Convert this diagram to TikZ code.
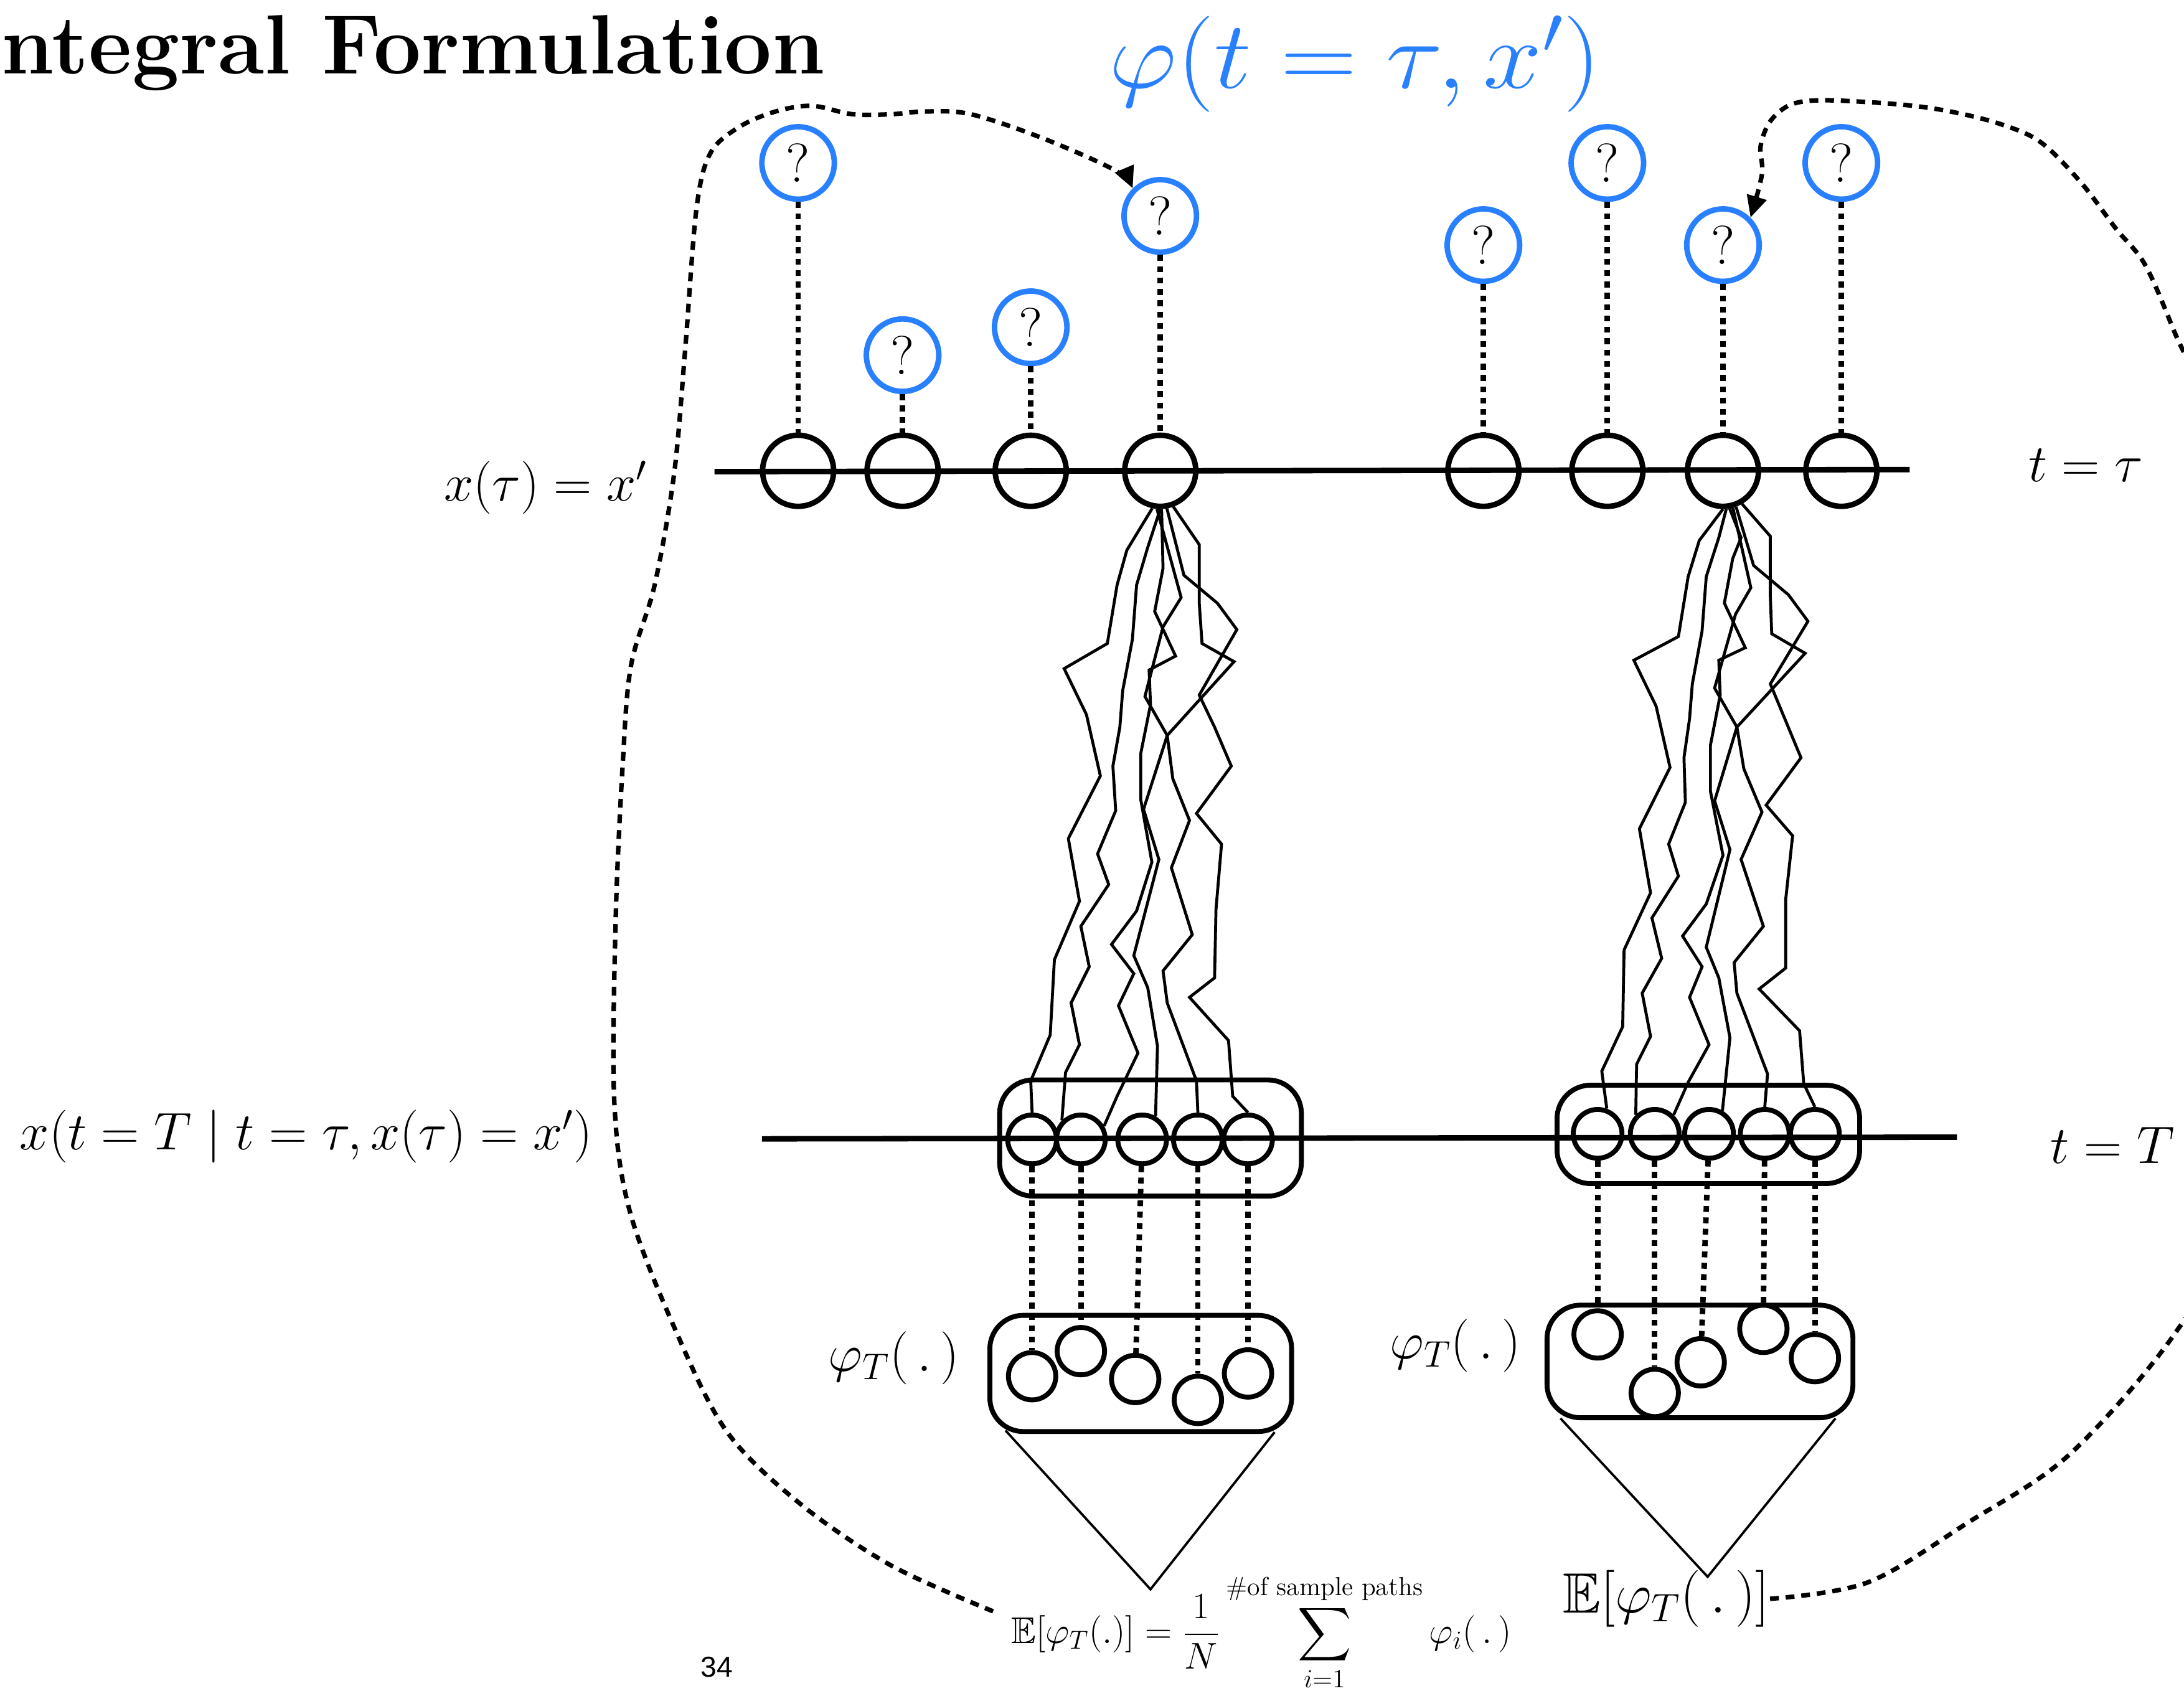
\RequirePackage{fix-cm}
\documentclass[tikz,border=0pt]{standalone}
\usepackage{amsmath}
\usepackage{amssymb}
\usepackage{fontspec}
\newfontfamily\pagefont{Liberation Sans}
\usetikzlibrary{arrows.meta}
\definecolor{qblue}{RGB}{40,128,255}

\begin{document}
\begin{tikzpicture}[x=0.025cm,y=-0.025cm,
  state/.style={circle,draw,line width=2.8pt,minimum size=1.275cm,inner sep=0pt},
  qmark/.style={circle,draw=qblue,line width=2.8pt,minimum size=1.3cm,inner sep=0pt,font=\fontsize{28}{30}\selectfont},
  hit/.style={circle,draw,line width=2.5pt,minimum size=0.875cm,inner sep=0pt},
  val/.style={circle,draw,line width=2.5pt,minimum size=0.85cm,inner sep=0pt},
  bag/.style={draw,rounded corners=0.6cm,line width=2.5pt,inner sep=0pt},
  link/.style={line width=2.8pt,dash pattern=on 3pt off 2.8pt},
  walk/.style={line width=1.5pt},
  cone/.style={line width=1.2pt},
  timeline/.style={line width=2.8pt},
  loopback/.style={line width=2.3pt,dash pattern=on 4.5pt off 3.5pt,-{Triangle[length=11pt,width=10pt]}},
  lab/.style={inner sep=0pt,font=\fontsize{27}{30}\selectfont}]
  \useasboundingbox (0,0) rectangle (1568,1214);
  \clip (0,0) rectangle (1568,1214);

  \node[anchor=base west,inner sep=0pt,font=\fontsize{43}{47}\selectfont\bfseries] (title) at (1,53) {ntegral Formulation};
  \node[inner sep=0pt,text=qblue,font=\fontsize{49}{52}\selectfont,xscale=1.1] (value) at (973,46) {$\varphi(t=\tau,x')$};

  % t = tau
  \coordinate (tauL) at (513,338.6);
  \coordinate (tauR) at (1371,337.1);
  \draw[timeline] (tauL) -- (tauR);
  \foreach \i/\x/\qy in {1/573/117,2/648/255,3/740/235,4/833/155,5/1065/176,6/1154/117,7/1237/176,8/1322/117} {
    \node[state] (s\i) at (\x,338) {};
    \node[qmark] (q\i) at (\x,\qy) {?};
    \draw[link] (q\i) -- (s\i);
  }
  \node[lab,anchor=east] (xtau) at (465,350) {$x(\tau)=x'$};
  \node[lab,anchor=west] (ttau) at (1456,334) {$t=\tau$};

  % t = T
  \coordinate (TL) at (547,817.6);
  \coordinate (TR) at (1405,816.4);
  \draw[timeline] (TL) -- (TR);
  \node[lab,anchor=west] (tT) at (1472,822) {$t=T$};
  \node[lab,anchor=west] (cond) at (14,816) {$x(t=T\mid t=\tau,x(\tau)=x')$};

  % left bundle
  \node[bag,minimum width=5.415cm,minimum height=2.085cm] (lhit) at (826,817) {};
  \node[bag,minimum width=5.415cm,minimum height=2.085cm] (lval) at (819,986) {};
  \foreach \i/\x in {1/741,2/776,3/820,4/860,5/896}
    \node[hit] (la\i) at (\x,818) {};
  \foreach \i/\x/\y in {1/741/988,2/776/970,3/815/990,4/860/1005,5/896/986}
    \node[val] (lb\i) at (\x,\y) {};
  \foreach \i in {1,...,5}
    \draw[link] (la\i) -- (lb\i);
  \node[lab,anchor=east] (phiL) at (689,975) {$\varphi_T(\,.\,)$};

  \draw[walk] (s4.-102) -- (809,395) -- (802,420) -- (795,462) -- (764,480) -- (780,513) -- (790,557) -- (767,602) -- (775,647) -- (757,689) -- (754,743) -- (740,776) -- (la1.north);
  \draw[walk] (s4.-90) -- (824,393) -- (816,420) -- (813,459) -- (806,496) -- (804,522) -- (799,550) -- (801,582) -- (788,613) -- (796,635) -- (776,665) -- (782,694) -- (769,720) -- (775,750) -- (765,770) -- (la2.north west);
  \draw[walk] (s4.-88) -- (835,408) -- (829,439) -- (844,471) -- (825,481) -- (826,506) -- (819,541) -- (819,574) -- (827,619) -- (816,654) -- (798,678) -- (814,699) -- (803,722) -- (817,756) -- (802,787) -- (la2.30);
  \draw[walk] (s4.-70) -- (861,391) -- (861,433) -- (863,462) -- (886,475) -- (838,528) -- (821,581) -- (832,617) -- (814,686) -- (824,709) -- (831,751) -- (la3.60);
  \draw[walk] (s4.-95) -- (848,429) -- (835,450) -- (822,500) -- (838,528) -- (842,559) -- (854,589) -- (841,623) -- (856,671) -- (835,697) -- (838,720) -- (859,776) -- (la4.north);
  \draw[walk] (s4.-80) -- (850,413) -- (874,433) -- (888,452) -- (861,499) -- (872,522) -- (884,550) -- (859,584) -- (877,606) -- (873,653) -- (872,702) -- (854,716) -- (882,747) -- (885,787) -- (la5.north);

  \coordinate (lapex) at (826,1141);
  \draw[cone] ([shift={(13,-2.5)}]lval.south west) -- (lapex) -- ([shift={(-14,-1.3)}]lval.south east);

  % right bundle
  \node[bag,minimum width=5.43cm,minimum height=1.765cm] (rhit) at (1226.5,814.4) {};
  \node[bag,minimum width=5.49cm,minimum height=2.02cm] (rval) at (1220.5,977.4) {};
  \foreach \i/\x in {1/1147,2/1188,3/1227,4/1267,5/1303}
    \node[hit] (ra\i) at (\x,814) {};
  \foreach \i/\x/\y in {1/1147/958,2/1188/1000,3/1221/978,4/1266/954,5/1303/975}
    \node[val] (rb\i) at (\x,\y) {};
  \foreach \i in {1,...,5}
    \draw[link] (ra\i) -- (rb\i);
  \node[lab,anchor=east] (phiR) at (1092,966) {$\varphi_T(\,.\,)$};

  \draw[walk] (s7.-90) -- (1220,388) -- (1212,414) -- (1205,457) -- (1173,474) -- (1189,507) -- (1199,551) -- (1177,595) -- (1185,641) -- (1166,682) -- (1165,737) -- (1150,769) -- (ra1.70);
  \draw[walk] (s7.-85) -- (1234,386) -- (1225,414) -- (1222,453) -- (1215,491) -- (1213,516) -- (1209,544) -- (1210,576) -- (1198,606) -- (1205,629) -- (1186,659) -- (1193,688) -- (1179,713) -- (1185,744) -- (1175,764) -- (ra2.north west);
  \draw[walk] (s7.-80) -- (1250,386) -- (1244,401) -- (1238,433) -- (1253,465) -- (1234,474) -- (1235,499) -- (1228,535) -- (1228,568) -- (1237,614) -- (1225,649) -- (1208,672) -- (1222,694) -- (1213,716) -- (1227,750) -- (1212,777) -- (ra2.north east);
  \draw[walk] (s7.-60) -- (1271,385) -- (1271,428) -- (1272,455) -- (1296,469) -- (1247,522) -- (1231,575) -- (1242,610) -- (1225,680) -- (1234,702) -- (1242,745) -- (ra3.60);
  \draw[walk] (s7.-75) -- (1257,422) -- (1246,441) -- (1231,494) -- (1247,522) -- (1252,552) -- (1265,583) -- (1250,617) -- (1266,665) -- (1245,691) -- (1247,713) -- (1269,771) -- (ra4.north);
  \draw[walk] (s7.-70) -- (1259,406) -- (1284,427) -- (1298,446) -- (1271,491) -- (1293,544) -- (1268,578) -- (1287,600) -- (1282,646) -- (1282,695) -- (1263,710) -- (1292,740) -- (1295,778) -- (ra5.north);

  \coordinate (rapex) at (1226,1132);
  \draw[cone] ([shift={(11.4,-1.3)}]rval.south west) -- (rapex) -- ([shift={(-14.3,-1.3)}]rval.south east);

  % expectations
  \node[anchor=base west,inner sep=0pt,font=\fontsize{19}{22}\selectfont] (meanL) at (726,1180)
    {$\displaystyle\mathbb{E}[\varphi_T(.)]=\frac{1}{N}\sum_{i=1}^{\text{\#of sample paths}}\varphi_i(\,.\,)$};
  \node[anchor=base west,inner sep=0pt,font=\fontsize{29}{32}\selectfont] (meanR) at (1122,1158) {$\mathbb{E}[\varphi_T(\,.\,)]$};
  \node[anchor=base west,inner sep=0pt,font=\pagefont\fontsize{14.7}{16}\selectfont] (page) at (503,1204) {34};

  % feedback to the query points
  \coordinate (lstart) at ([shift={(-13,-15)}]meanL.west);
  \draw[loopback] plot[smooth,tension=0.55] coordinates {(lstart) (640,1124) (575,1080) (522,1028) (485,955) (452,869) (441,790) (442,661) (447,550) (453,478) (470,420) (484,340) (492,250) (500,150) (510,110) (531,91) (557,80) (583,76) (612,82) (640,82) (665,80) (697,82) (748,99) (800,122) (q4.north west)};
  \draw[loopback] plot[smooth,tension=0.55] coordinates {(meanR.east) (1341,1136) (1413,1093) (1486,1044) (1561,958) (1600,880) (1620,700) (1610,450) (1585,300) (1561,238) (1540,190) (1519,164) (1494,131) (1465,102) (1436,89) (1400,80) (1364,75) (1311,72) (1286,75) (1271,87) (1264,105) (1265,125) (q7.north east)};
\end{tikzpicture}
\end{document}
